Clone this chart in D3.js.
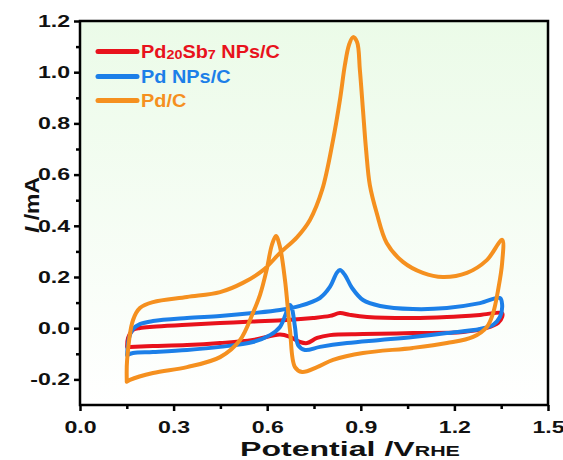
<!DOCTYPE html>
<html><head><meta charset="utf-8">
<script src="https://cdn.jsdelivr.net/npm/d3@7"></script>
<style>body{margin:0;background:#fff}svg{display:block}text{font-family:Arial,"Liberation Sans",sans-serif;font-weight:bold}</style>
</head><body><svg id="c" width="563" height="460"></svg>
<script>
// Data (potential V vs RHE, current mA)
const seriesNames = ["Pd20Sb7 NPs/C", "Pd NPs/C", "Pd/C"];
const pdSbV = [0.151,0.154,0.170,0.192,0.234,0.343,0.449,0.554,0.663,0.747,0.801,0.833,0.865,0.920,1.067,1.176,1.282,1.353,1.353,1.340,1.304,1.228,1.067,0.907,0.801,0.760,0.728,0.705,0.673,0.641,0.554,0.449,0.343,0.234,0.160,0.151];
const pdSbI = [-0.073,-0.038,-0.007,0.001,0.006,0.013,0.020,0.026,0.032,0.040,0.048,0.059,0.052,0.044,0.040,0.044,0.052,0.059,0.044,0.020,0.001,-0.015,-0.019,-0.023,-0.027,-0.038,-0.058,-0.054,-0.034,-0.025,-0.046,-0.058,-0.066,-0.070,-0.073,-0.073];
const pdV = [0.151,0.157,0.170,0.192,0.234,0.343,0.449,0.554,0.641,0.705,0.769,0.801,0.823,0.833,0.849,0.872,0.907,0.962,1.067,1.176,1.282,1.346,1.353,1.346,1.324,1.282,1.176,1.067,0.962,0.856,0.769,0.721,0.699,0.689,0.679,0.673,0.641,0.609,0.554,0.449,0.343,0.234,0.170,0.151];
const pdI = [-0.105,-0.038,-0.003,0.016,0.028,0.040,0.048,0.059,0.071,0.087,0.118,0.161,0.216,0.227,0.208,0.157,0.110,0.087,0.075,0.079,0.098,0.118,0.091,0.044,0.013,-0.003,-0.019,-0.034,-0.046,-0.058,-0.073,-0.085,-0.066,0.005,0.079,0.091,0.005,-0.027,-0.054,-0.073,-0.085,-0.093,-0.097,-0.105];
const pdcV = [0.150,0.151,0.170,0.192,0.234,0.343,0.449,0.522,0.587,0.641,0.696,0.737,0.776,0.811,0.833,0.849,0.862,0.875,0.888,0.897,0.907,0.917,0.929,0.951,0.983,1.035,1.099,1.163,1.240,1.304,1.353,1.353,1.340,1.324,1.304,1.260,1.176,1.067,0.907,0.811,0.760,0.712,0.689,0.673,0.657,0.641,0.628,0.615,0.598,0.577,0.554,0.513,0.449,0.343,0.234,0.160,0.150];
const pdcI = [-0.209,-0.124,0.032,0.079,0.102,0.122,0.141,0.177,0.227,0.294,0.356,0.423,0.540,0.735,0.891,1.028,1.106,1.137,1.118,1.009,0.852,0.696,0.559,0.450,0.333,0.259,0.216,0.200,0.216,0.266,0.345,0.255,0.149,0.059,0.005,-0.034,-0.058,-0.077,-0.097,-0.124,-0.152,-0.171,-0.152,-0.007,0.188,0.317,0.360,0.325,0.227,0.130,0.059,-0.046,-0.113,-0.152,-0.175,-0.202,-0.209];
const xTicks = [0.0,0.3,0.6,0.9,1.2,1.5];
const yTicks = [-0.2,0.0,0.2,0.4,0.6,0.8,1.0,1.2];
const colors = ["#e8121c","#1c7fe8","#f5901f"];

const svg = d3.select("#c");
const L=80, R=548, T=21, B=405;
const x = d3.scaleLinear().domain([0,1.5]).range([L,R]);
const y = d3.scaleLinear().domain([-0.3,1.2]).range([B,T]);
const fmt = d => d.toFixed(1);

const defs = svg.append("defs");
const g = defs.append("linearGradient").attr("id","bg").attr("x1",0).attr("y1",0).attr("x2",0).attr("y2",1);
g.append("stop").attr("offset","0%").attr("stop-color","#ebfbe8");
g.append("stop").attr("offset","100%").attr("stop-color","#ffffff");
svg.append("rect").attr("x",L).attr("y",T).attr("width",R-L).attr("height",B-T).attr("fill","url(#bg)");

const line = d3.line().x(d=>x(d[0])).y(d=>y(d[1])).curve(d3.curveCatmullRom.alpha(0.5));
const sets = [[pdSbV,pdSbI],[pdV,pdI],[pdcV,pdcI]];
sets.forEach((s,i)=>{
  const pts = s[0].map((v,k)=>[v,s[1][k]]);
  svg.append("path").attr("d",line(pts)).attr("fill","none").attr("stroke",colors[i]).attr("stroke-width",4).attr("stroke-linejoin","round").attr("stroke-linecap","round");
});

// axes
const xAx = d3.axisBottom(x).tickValues(xTicks).tickFormat(fmt).tickSize(6).tickPadding(10);
const xMin = d3.axisBottom(x).tickValues([0.15,0.45,0.75,1.05,1.35]).tickFormat("").tickSize(4);
const yAx = d3.axisLeft(y).tickValues(yTicks).tickFormat(fmt).tickSize(6).tickPadding(4);
const yMin = d3.axisLeft(y).tickValues([-0.1,0.1,0.3,0.5,0.7,0.9,1.1]).tickFormat("").tickSize(4);
const tickStretch = 1.4;
[[xAx,`translate(0,${B})`],[xMin,`translate(0,${B})`],[yAx,`translate(${L},0)`],[yMin,`translate(${L},0)`]].forEach(a=>{
  const gg = svg.append("g").attr("transform",a[1]).call(a[0]);
  gg.select(".domain").remove();
  gg.selectAll("line").attr("stroke","#000").attr("stroke-width",2.5);
  gg.selectAll("text").attr("font-size",16.5).attr("font-weight","bold").attr("fill","#111").attr("font-family","Arial, 'Liberation Sans', sans-serif")
    .each(function(){const w=this.getComputedTextLength(); if(w>0){d3.select(this).attr("textLength",w*tickStretch).attr("lengthAdjust","spacingAndGlyphs");}});
});
svg.append("rect").attr("x",L).attr("y",T).attr("width",R-L).attr("height",B-T).attr("fill","none").attr("stroke","#000").attr("stroke-width",2.5);

// axis titles
const xtg = svg.append("g").attr("transform","translate(240,456)");
const xt = xtg.append("text").attr("x",0).attr("y",0).attr("font-size",21).attr("fill","#111");
xt.append("tspan").text("Potential /V");
xt.append("tspan").attr("font-size",14).text("RHE");
const xw = xt.node().getBBox().width;
xt.attr("transform",`scale(${220/xw},1)`);

const ytg = svg.append("g").attr("transform","translate(39,205) rotate(-90)");
const yt = ytg.append("text").attr("text-anchor","middle").attr("font-size",20).attr("fill","#111");
yt.append("tspan").attr("font-style","italic").text("I");
yt.append("tspan").text(" /mA");
const yw = yt.node().getBBox().width;
yt.attr("transform",`scale(${56/yw},1)`);

// legend
const legY = [51.5,76.5,100.5];
let legScale = 1;
seriesNames.forEach((n,i)=>{
  svg.append("line").attr("x1",98).attr("x2",137).attr("y1",legY[i]).attr("y2",legY[i]).attr("stroke",colors[i]).attr("stroke-width",5).attr("stroke-linecap","round");
  const tg = svg.append("g").attr("transform",`translate(141,${legY[i]+6.5})`);
  const t = tg.append("text").attr("font-size",18).attr("fill",colors[i]);
  if(i===0){
    t.append("tspan").text("Pd");
    t.append("tspan").attr("font-size",13).attr("dy",1).text("20");
    t.append("tspan").attr("dy",-1).text("Sb");
    t.append("tspan").attr("font-size",13).attr("dy",1).text("7");
    t.append("tspan").attr("dy",-1).text(" NPs/C");
    legScale = 139/t.node().getBBox().width;
  } else t.text(n);
  t.attr("transform",`scale(${legScale},1)`);
});
</script></body></html>
